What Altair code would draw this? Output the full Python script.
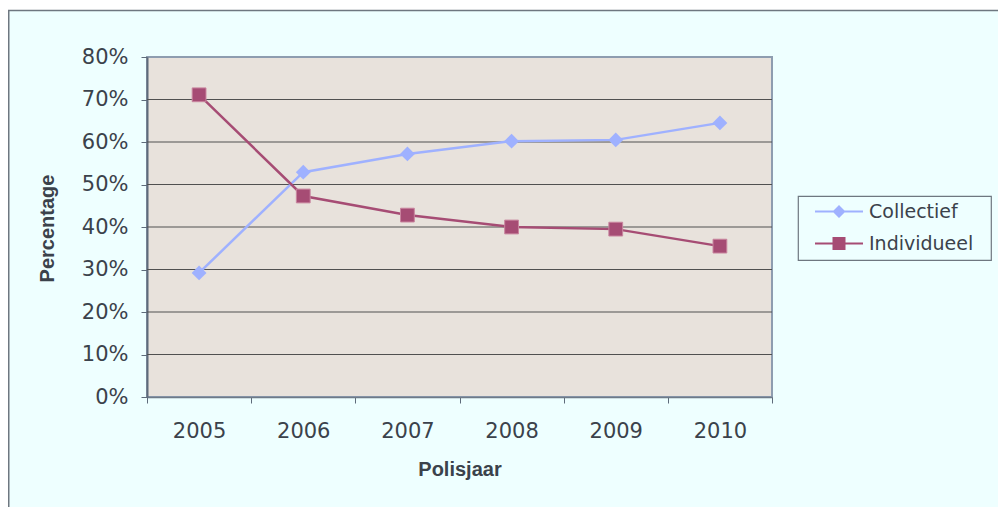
import altair as alt
import pandas as pd

# ---- data ----
years = ["2005", "2006", "2007", "2008", "2009", "2010"]
collectief = [0.292, 0.529, 0.572, 0.602, 0.605, 0.645]
individueel = [0.711, 0.473, 0.428, 0.400, 0.395, 0.355]
series_names = ["Collectief", "Individueel"]
y_tick_values = [0.0, 0.1, 0.2, 0.3, 0.4, 0.5, 0.6, 0.7, 0.8]
grid_values = [0.1, 0.2, 0.3, 0.4, 0.5, 0.6, 0.7]

rows = []
for jaar, c, i in zip(years, collectief, individueel):
    rows.append({"jaar": jaar, "serie": "Collectief", "waarde": c})
    rows.append({"jaar": jaar, "serie": "Individueel", "waarde": i})
df = pd.DataFrame(rows)
grid_df = pd.DataFrame({"g": grid_values})
one_df = pd.DataFrame({"k": [0]})

# ---- style ----
W, H = 625, 340
PAD_L, PAD_T, PAD_R, PAD_B = 139, 49, 226, 110
BG = "#EEFFFF"
PLOT_BG = "#E8E2DC"
TEXT = "#3B424B"
BORDER = "#6E7780"
COLORS = ["#9FB1FF", "#A64C74"]

# legend symbols: a short line with the marker on it (last moveTo only widens the box)
legend_paths = [
    "M-4.8,-0.2H4.8V0.2H-4.8Z M0,-1.3L1.3,0L0,1.3L-1.3,0Z M29.2,0Z",
    "M-4.8,-0.2H4.8V0.2H-4.8Z M-1.3,-1.3H1.3V1.3H-1.3Z M29.2,0Z",
]

x_scale = alt.Scale(type="band", domain=years, paddingInner=0, paddingOuter=0)
y_scale = alt.Scale(domain=[0, 0.8], nice=False, zero=True)

x_axis = alt.Axis(
    title="Polisjaar", labelAngle=0, tickBand="extent", tickSize=6,
    labelPadding=17, domainColor="#6E7A88", domainWidth=1.5,
    tickColor="#5E6B7A", titleX=W / 2, titleY=72,
    titleAlign="center", titleBaseline="middle", grid=False,
)
y_axis = alt.Axis(
    title="Percentage", values=y_tick_values, format=".0%", tickSize=6,
    labelPadding=13, domainColor="#5E6B7A", domainWidth=2,
    tickColor="#5E6B7A", titleX=-100, titleY=171, titleAngle=-90,
    titleAlign="center", titleBaseline="middle", grid=False,
)

x_enc = alt.X("jaar:O", scale=x_scale, axis=x_axis)
y_enc = alt.Y("waarde:Q", scale=y_scale, axis=y_axis)

# white strip above the outer box, and the box's top and left border
strip = alt.Chart(one_df).mark_rect(fill="white").encode(
    x=alt.value(-PAD_L), x2=alt.value(W + PAD_R),
    y=alt.value(-PAD_T), y2=alt.value(-PAD_T + 2),
)
top_border = alt.Chart(one_df).mark_rule(color=BORDER, strokeWidth=1.5).encode(
    x=alt.value(-PAD_L), x2=alt.value(W + PAD_R),
    y=alt.value(-PAD_T + 2.5),
)
left_border = alt.Chart(one_df).mark_rule(color=BORDER, strokeWidth=1.5).encode(
    x=alt.value(-PAD_L + 0.75),
    y=alt.value(-PAD_T + 2), y2=alt.value(H + PAD_B),
)

leg = alt.Legend(title=None, direction="vertical")
legend_layer = alt.Chart(df).transform_filter("false").mark_point(
    filled=True, opacity=1
).encode(
    x=x_enc, y=y_enc,
    color=alt.Color("serie:N", scale=alt.Scale(domain=series_names, range=COLORS), legend=leg),
    shape=alt.Shape("serie:N", scale=alt.Scale(domain=series_names, range=legend_paths), legend=leg),
)

grid = alt.Chart(grid_df).mark_rule(color="#505050", strokeWidth=1).encode(
    y=alt.Y("g:Q", scale=y_scale, axis=y_axis),
    x=alt.value(0), x2=alt.value(W),
)

lines = alt.Chart(df).mark_line(strokeWidth=2.5).encode(
    x=x_enc, y=y_enc,
    stroke=alt.Stroke("serie:N", scale=alt.Scale(domain=series_names, range=COLORS), legend=None),
)

pts_c = alt.Chart(df).transform_filter(alt.datum.serie == "Collectief").mark_point(
    shape="diamond", filled=True, size=220, fill=COLORS[0], opacity=1
).encode(x=x_enc, y=y_enc)

pts_i = alt.Chart(df).transform_filter(alt.datum.serie == "Individueel").mark_point(
    shape="square", filled=True, size=190, fill=COLORS[1],
    stroke="#C9859F", strokeWidth=1, opacity=1
).encode(x=x_enc, y=y_enc)

chart = alt.layer(
    legend_layer, strip, top_border, left_border, grid, lines, pts_c, pts_i
).properties(
    width=W, height=H,
    padding={"left": PAD_L, "top": PAD_T, "right": PAD_R, "bottom": PAD_B},
    autosize=alt.AutoSizeParams(type="none"),
    background=BG,
).configure_view(
    fill=PLOT_BG, stroke="#8E9DB0", strokeWidth=2
).configure_axis(
    labelFont="DejaVu Sans", labelFontSize=21, labelColor=TEXT,
    titleFont="Liberation Sans", titleFontSize=20, titleFontWeight="bold",
    titleColor=TEXT,
).configure_legend(
    orient="none", legendX=651, legendY=139,
    padding=6, rowPadding=12,
    fillColor=BG, strokeColor=BORDER, strokeWidth=1.2,
    symbolStrokeWidth=0, symbolSize=100, symbolOffset=25.5,
    labelOffset=20.5, labelFont="DejaVu Sans", labelFontSize=19,
    labelColor=TEXT,
)

chart.save("out.html", embed_options={"renderer": "svg", "actions": False})
